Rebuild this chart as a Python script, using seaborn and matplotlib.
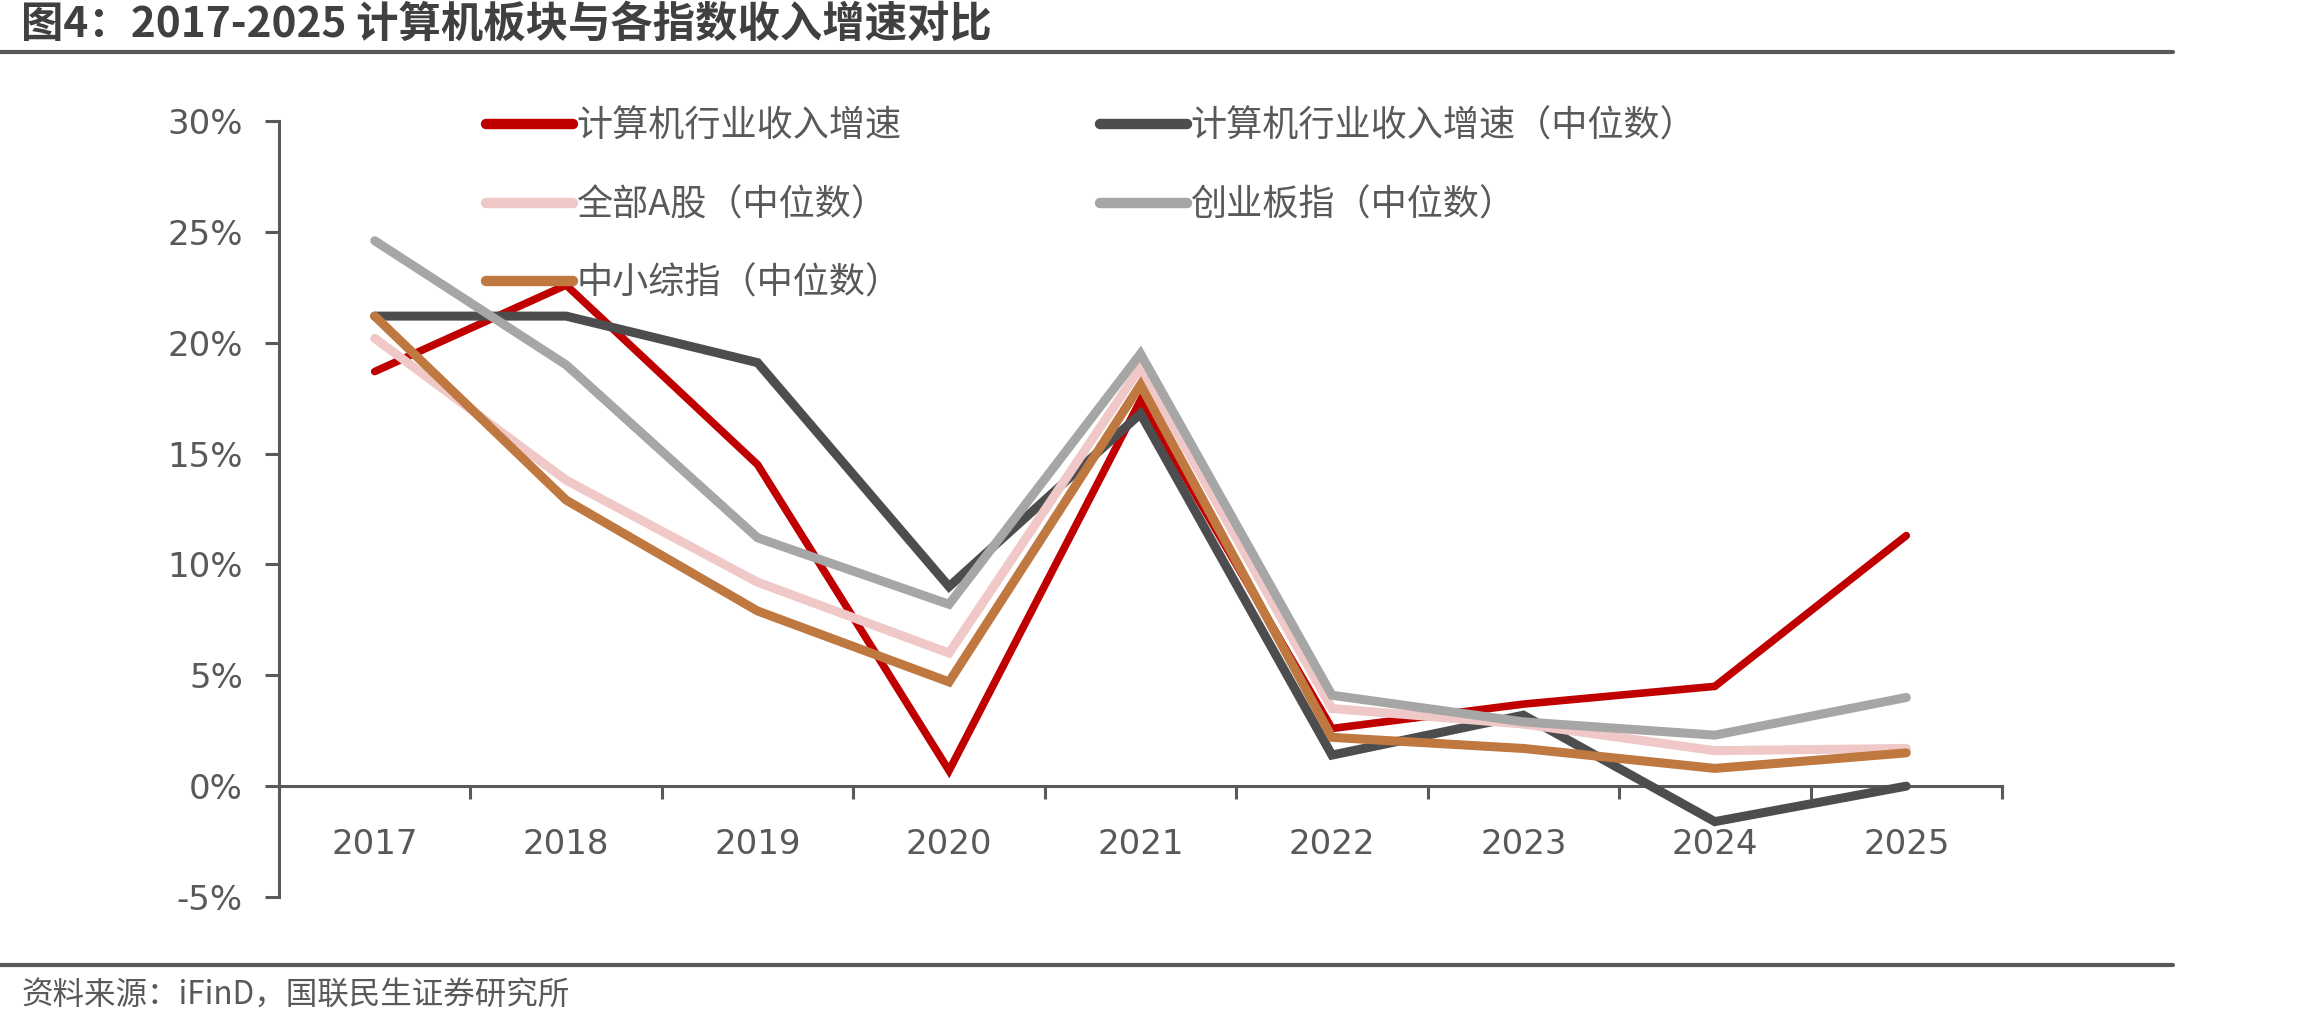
import numpy as np
import matplotlib
matplotlib.use("Agg")
import matplotlib.pyplot as plt
import seaborn as sns
from matplotlib.lines import Line2D
from matplotlib.ticker import PercentFormatter, FixedLocator

# data (percent)
years = ["2017", "2018", "2019", "2020", "2021", "2022", "2023", "2024", "2025"]
cs_total = [18.7, 22.6, 14.5, 0.7, 17.4, 2.6, 3.7, 4.5, 11.3]
cs_median = [21.2, 21.2, 19.1, 9.0, 16.8, 1.4, 3.2, -1.6, 0.0]
all_a_median = [20.2, 13.8, 9.2, 6.0, 18.9, 3.5, 2.8, 1.6, 1.7]
chinext_median = [24.6, 19.0, 11.2, 8.2, 19.5, 4.1, 2.9, 2.3, 4.0]
sme_median = [21.2, 12.9, 7.9, 4.7, 18.1, 2.2, 1.7, 0.8, 1.5]

labels = ["计算机行业收入增速", "计算机行业收入增速（中位数）", "全部A股（中位数）",
          "创业板指（中位数）", "中小综指（中位数）"]
colors = ["#C00000", "#4D4D4F", "#F0C8C8", "#A6A6A6", "#C07841"]
widths = [5.5, 6.5, 6.5, 6.5, 6.5]

title = "图4：2017-2025 计算机板块与各指数收入增速对比"
source = "资料来源：iFinD，国联民生证券研究所"

sns.set_theme(style="white")
plt.rcParams["font.family"] = ["Noto Sans CJK SC", "DejaVu Sans"]
plt.rcParams["axes.unicode_minus"] = False

AX_COLOR = "#595959"
W, H = 2310, 1025

fig = plt.figure(figsize=(W / 100, H / 100), dpi=100)
ax = fig.add_axes([279 / W, 1 - 897 / H, (2002 - 279) / W, (897 - 121) / H])

x = np.arange(len(years))
series = [cs_total, cs_median, all_a_median, chinext_median, sme_median]
for i, (vals, lab, col, lw) in enumerate(zip(series, labels, colors, widths)):
    sns.lineplot(x=x, y=vals, ax=ax, color=col, linewidth=lw, label=lab,
                 zorder=3 + i, solid_capstyle="round", solid_joinstyle="miter")

ax.set_xlim(-0.5, len(years) - 0.5)
ax.set_ylim(-5, 30)
ax.set_yticks(np.arange(-5, 31, 5))
ax.yaxis.set_major_formatter(PercentFormatter(decimals=0))

ax.set_xticks(x)
ax.set_xticklabels(years)
ax.xaxis.set_minor_locator(FixedLocator(np.arange(-0.5, len(years), 1.0)))

for s in ["top", "right"]:
    ax.spines[s].set_visible(False)
ax.spines["bottom"].set_position(("data", 0))
for s in ["left", "bottom"]:
    ax.spines[s].set_color(AX_COLOR)
    ax.spines[s].set_linewidth(2.2)
    ax.spines[s].set_zorder(2)

ax.tick_params(axis="y", which="major", direction="out", length=10, width=2.2,
               color=AX_COLOR, labelcolor=AX_COLOR, labelsize=24.5, pad=16, left=True)
ax.tick_params(axis="x", which="major", length=0, labelcolor=AX_COLOR,
               labelsize=24.5, pad=30, bottom=True)
ax.tick_params(axis="x", which="minor", direction="out", length=9, width=2.2,
               color=AX_COLOR, bottom=True)
for t in ax.get_xticklabels() + ax.get_yticklabels():
    t.set_fontfamily("DejaVu Sans")
ax.grid(False)

# legend in the reference's row-first order
handles, labs = ax.get_legend_handles_labels()
order = [0, 2, 4, 1, 3]
leg = ax.legend([handles[k] for k in order], [labs[k] for k in order],
                ncol=2, loc="upper left",
                bbox_to_anchor=(486 / W, 1 - 109 / H), bbox_transform=fig.transFigure,
                frameon=False, fontsize=26, handlelength=2.4, handletextpad=0.1,
                columnspacing=5.5, labelspacing=1.17, borderpad=0, borderaxespad=0)
for t in leg.get_texts():
    t.set_color(AX_COLOR)
for h in leg.get_lines():
    h.set_linewidth(7.5)
    h.set_solid_capstyle("round")

# title, rules and source note
fig.text(21 / W, 1 - 25 / H, title, fontsize=30.5, fontweight="bold",
         color="#404040", ha="left", va="center")
fig.add_artist(Line2D([0, 2173 / W], [1 - 52 / H, 1 - 52 / H],
                      transform=fig.transFigure, color=AX_COLOR, linewidth=3))
fig.add_artist(Line2D([0, 2173 / W], [1 - 965 / H, 1 - 965 / H],
                      transform=fig.transFigure, color=AX_COLOR, linewidth=3))
fig.text(21 / W, 1 - 995 / H, source, fontsize=22.7, color=AX_COLOR,
         ha="left", va="center")

fig.savefig("out.png", dpi=100, facecolor="white")
